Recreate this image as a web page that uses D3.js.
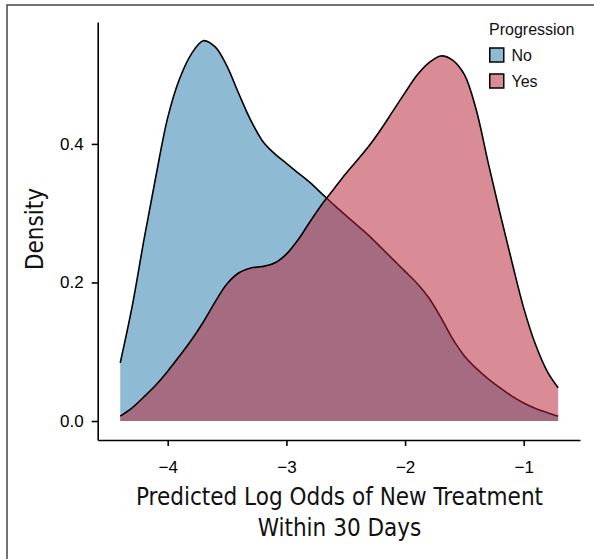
<!DOCTYPE html>
<html>
<head>
<meta charset="utf-8">
<script src="https://cdn.jsdelivr.net/npm/d3@7"></script>
<style>
  body { margin: 0; background: #fff; }
  svg { display: block; }
</style>
</head>
<body>
<div id="chart"></div>
<script>
// density estimates, on a 0.1 grid of log odds
const xGrid = [-4.40, -4.3, -4.2, -4.1, -4.0, -3.9, -3.8, -3.7, -3.6, -3.5, -3.4, -3.3, -3.2, -3.1, -3.0,
    -2.9, -2.8, -2.7, -2.6, -2.5, -2.4, -2.3, -2.2, -2.1, -2.0, -1.9, -1.8, -1.7, -1.6, -1.5,
    -1.4, -1.3, -1.2, -1.1, -1.0, -0.9, -0.8, -0.71];
const densityNo = [0.084, 0.165, 0.262, 0.353, 0.438, 0.494, 0.530, 0.549, 0.540, 0.512, 0.472, 0.434, 0.404, 0.386, 0.372,
    0.358, 0.344, 0.328, 0.312, 0.297, 0.282, 0.267, 0.250, 0.233, 0.216, 0.199, 0.178, 0.150, 0.119, 0.094,
    0.076, 0.061, 0.048, 0.036, 0.026, 0.018, 0.012, 0.007];
const densityYes = [0.007, 0.019, 0.035, 0.052, 0.072, 0.094, 0.117, 0.143, 0.172, 0.198, 0.214, 0.221, 0.223, 0.228, 0.241,
    0.262, 0.288, 0.313, 0.335, 0.357, 0.377, 0.398, 0.422, 0.448, 0.474, 0.499, 0.517, 0.527, 0.521, 0.500,
    0.449, 0.373, 0.300, 0.230, 0.163, 0.110, 0.071, 0.048];
const groups = ["No", "Yes"];
const xTicks = [-4, -3, -2, -1];
const yTicks = [0.0, 0.2, 0.4];

const width = 594, height = 559;

const svg = d3.select("#chart")
    .append("svg")
    .attr("width", width)
    .attr("height", height);

// frame (only left and top edges fall inside the picture)
svg.append("path")
    .attr("d", "M7,600 L7,5 L600,5")
    .attr("fill", "none")
    .attr("stroke", "#444")
    .attr("stroke-width", 1.5);

const x = d3.scaleLinear()
    .domain([-4.59, -0.526])
    .range([97.7, 580]);

const y = d3.scaleLinear()
    .domain([-0.0274, 0.576])
    .range([440, 22]);

const fills = {No: "#8fbad4", Yes: "rgba(184,34,53,0.52)"};
const series = {No: densityNo, Yes: densityYes};

const area = d3.area()
    .x(d => x(d[0]))
    .y0(y(0))
    .y1(d => y(d[1]))
    .curve(d3.curveCatmullRom.alpha(0.5));

const line = d3.line()
    .x(d => x(d[0]))
    .y(d => y(d[1]))
    .curve(d3.curveCatmullRom.alpha(0.5));

groups.forEach(function (g) {
    const pts = xGrid.map((v, i) => [v, series[g][i]]);
    svg.append("path")
        .attr("d", area(pts))
        .attr("fill", fills[g]);
    svg.append("path")
        .attr("d", line(pts))
        .attr("fill", "none")
        .attr("stroke", "#000")
        .attr("stroke-width", 1.6);
});

// axes
const xAxis = svg.append("g")
    .attr("transform", "translate(0,440)")
    .call(d3.axisBottom(x).tickValues(xTicks).tickFormat(d3.format("d")).tickSize(6).tickPadding(15).tickSizeOuter(0));

const yAxis = svg.append("g")
    .attr("transform", "translate(97.7,0)")
    .call(d3.axisLeft(y).tickValues(yTicks).tickFormat(d3.format(".1f")).tickSize(6).tickPadding(8).tickSizeOuter(0));

[xAxis, yAxis].forEach(function (a) {
    a.select(".domain").attr("stroke", "#000").attr("stroke-width", 1.6);
    a.selectAll(".tick line").attr("stroke", "#000").attr("stroke-width", 1.6);
    a.selectAll(".tick text")
        .attr("fill", "#000")
        .style("font-family", "'Liberation Sans', Arial, sans-serif")
        .style("font-size", "17px");
});

// axis titles
const titleFont = "'Liberation Sans Narrow', 'DejaVu Sans Condensed', sans-serif";
svg.append("text")
    .attr("x", 339.5)
    .attr("y", 505)
    .attr("text-anchor", "middle")
    .style("font-family", titleFont)
    .style("font-size", "24px")
    .attr("fill", "#111")
    .text("Predicted Log Odds of New Treatment");

svg.append("text")
    .attr("x", 339.5)
    .attr("y", 536)
    .attr("text-anchor", "middle")
    .style("font-family", titleFont)
    .style("font-size", "24px")
    .attr("fill", "#111")
    .text("Within 30 Days");

svg.append("text")
    .attr("transform", "translate(43,229) rotate(-90)")
    .attr("text-anchor", "middle")
    .style("font-family", titleFont)
    .style("font-size", "24px")
    .attr("fill", "#111")
    .text("Density");

// legend
const legend = svg.append("g").attr("transform", "translate(489,0)");
legend.append("text")
    .attr("x", 0)
    .attr("y", 35)
    .style("font-family", "'Liberation Sans', Arial, sans-serif")
    .style("font-size", "16px")
    .attr("fill", "#111")
    .text("Progression");

groups.forEach(function (g, i) {
    legend.append("rect")
        .attr("x", 0.75)
        .attr("y", 48 + i * 26)
        .attr("width", 14)
        .attr("height", 14)
        .attr("fill", g === "No" ? fills.No : "#da8c96")
        .attr("stroke", "#000")
        .attr("stroke-width", 1.5);
    legend.append("text")
        .attr("x", 22.5)
        .attr("y", 61 + i * 26)
        .style("font-family", "'Liberation Sans', Arial, sans-serif")
        .style("font-size", "16px")
        .attr("fill", "#111")
        .text(g);
});
</script>
</body>
</html>
